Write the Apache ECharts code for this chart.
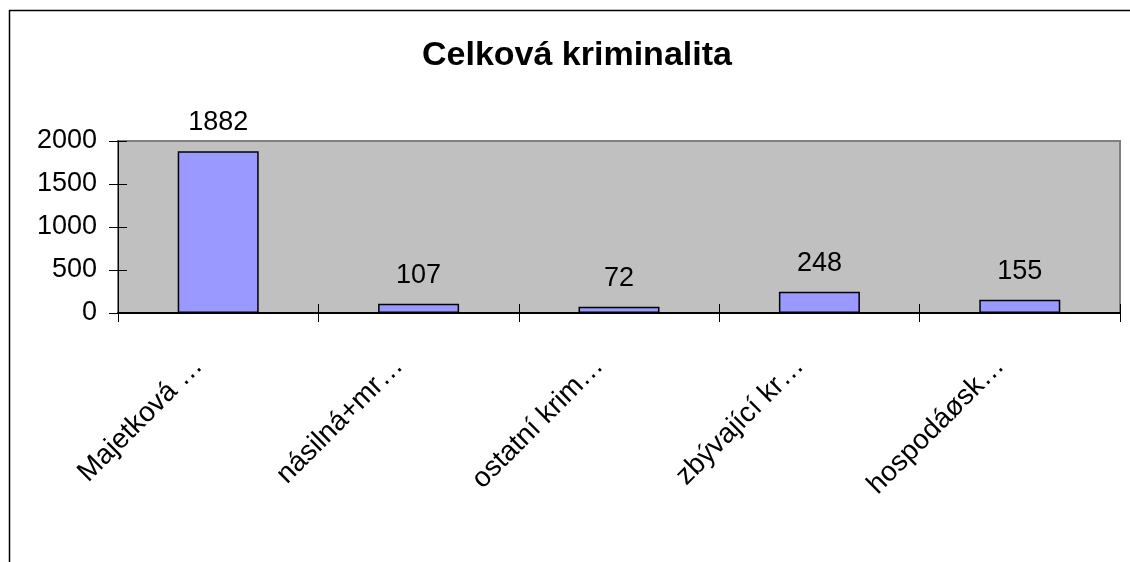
<!DOCTYPE html>
<html>
<head>
    <meta http-equiv=Content-Type content="text/html; charset=utf-8">
    <title>Celková kriminalita</title>
    <script type="text/javascript" src="https://cdn.jsdelivr.net/npm/echarts@6/dist/echarts.min.js"></script>
    <style>
        html, body { margin: 0; padding: 0; background: #fff; }
        #chartmain { width: 1130px; height: 562px; }
    </style>
</head>
<body>
<div id="chartmain"></div>
<script type="text/javascript">
    // kategorie a hodnoty
    var categories = ['Majetková …', 'násilná+mr…', 'ostatní krim…', 'zbývající kr…', 'hospodáøsk…'];
    var values = [1882, 107, 72, 248, 155];
    var yTicks = [0, 500, 1000, 1500, 2000];

    var font = '"Liberation Sans", Arial, sans-serif';
    var myChart = echarts.init(document.getElementById('chartmain'));

    var option = {
        animation: false,
        backgroundColor: '#fff',
        title: {
            text: 'Celková kriminalita',
            left: 417,
            top: 34,
            textStyle: { fontFamily: font, fontSize: 34, fontWeight: 'bold', color: '#000' }
        },
        graphic: [{
            type: 'rect',
            shape: { x: 9.5, y: 10.5, width: 1300, height: 700 },
            style: { fill: null, stroke: '#000', lineWidth: 1.5 },
            silent: true
        }],
        grid: {
            left: 118, right: 10, top: 141, bottom: 249,
            show: true,
            backgroundColor: '#C0C0C0',
            borderColor: '#808080',
            borderWidth: 2
        },
        xAxis: [
            {
                type: 'category',
                data: categories,
                boundaryGap: true,
                axisLine: { lineStyle: { color: '#000', width: 2 } },
                axisTick: { show: true, interval: 0, length: 9, lineStyle: { color: '#000' } },
                axisLabel: {
                    interval: 0, rotate: 45, margin: 29,
                    padding: [0, 28, 0, 0],
                    fontFamily: font, fontSize: 28, color: '#000'
                }
            },
            {
                type: 'category',
                data: categories,
                position: 'bottom',
                boundaryGap: true,
                axisLine: { show: false },
                axisTick: { show: true, inside: true, interval: 0, length: 9, lineStyle: { color: '#000' } },
                axisLabel: { show: false }
            }
        ],
        yAxis: [
            {
                type: 'value',
                min: yTicks[0],
                max: yTicks[yTicks.length - 1],
                interval: 500,
                splitLine: { show: false },
                axisLine: { show: true, lineStyle: { color: '#000', width: 1 } },
                axisTick: { show: true, length: 9, lineStyle: { color: '#000' } },
                axisLabel: {
                    margin: 21, fontFamily: font, fontSize: 27, color: '#000',
                    formatter: function (v) { return String(v); }
                }
            },
            {
                type: 'value',
                position: 'left',
                min: yTicks[0],
                max: yTicks[yTicks.length - 1],
                interval: 500,
                splitLine: { show: false },
                axisLine: { show: false },
                axisTick: { show: true, inside: true, length: 9, lineStyle: { color: '#000' } },
                axisLabel: { show: false }
            }
        ],
        series: [{
            type: 'bar',
            data: values,
            barWidth: 81,
            itemStyle: { color: '#9999FF', borderColor: '#000', borderWidth: 1.5 },
            label: {
                show: true,
                position: 'top',
                distance: 15,
                fontFamily: font,
                fontSize: 27,
                color: '#000'
            }
        }]
    };
    myChart.setOption(option);
</script>
</body>
</html>
